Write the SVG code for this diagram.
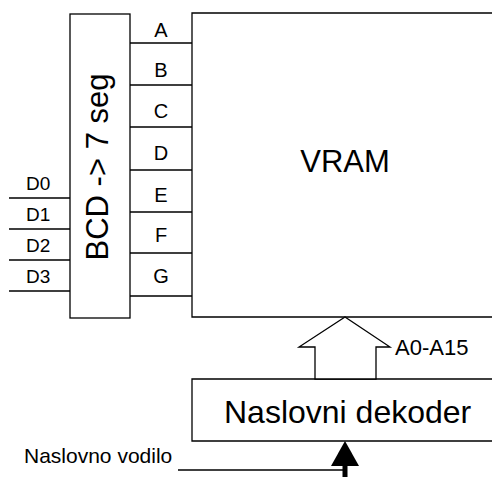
<svg xmlns="http://www.w3.org/2000/svg" width="492" height="477" viewBox="0 0 492 477">
<style>
.ln{fill:none;stroke:#000;stroke-width:1.3}
.box{fill:#fff;stroke:#000;stroke-width:1.3}
text{font-family:"Liberation Sans",Arial,sans-serif;fill:#000}
.seg{font-size:20px;text-anchor:middle}
.din{font-size:19px}
</style>
<rect width="492" height="477" fill="#fff"/>
<g id="bcd">
<rect class="box" x="70" y="14" width="60" height="304"/>
<text transform="translate(108,167) rotate(-90)" font-size="31" text-anchor="middle">BCD -&gt; 7 seg</text>
</g>
<g id="vram">
<path class="ln" d="M500 13 H192 V317 H500"/>
<text x="345" y="172" font-size="31" text-anchor="middle">VRAM</text>
</g>
<g id="decoder">
<path class="box" d="M500 379 H192 V441 H500"/>
<text x="224" y="423" font-size="32">Naslovni dekoder</text>
</g>
<g id="connectors">
<path class="ln" d="M130 43 H192 M130 85 H192 M130 127 H192 M130 170 H192 M130 212 H192 M130 253 H192 M130 296 H192"/>
<path class="ln" d="M9 198 H70 M9 229 H70 M9 260 H70 M9 291 H70"/>
<polygon class="box" points="315,379 315,347 299,347 345,317 390,347 376,347 376,379"/>
<path class="ln" d="M178 470 H343"/>
<polygon points="345,441 359,466 331,466" fill="#000"/>
<rect x="342.5" y="465" width="5" height="12" fill="#000"/>
</g>
<g id="labels">
<text class="seg" x="161" y="37">A</text>
<text class="seg" x="161" y="77">B</text>
<text class="seg" x="161" y="118">C</text>
<text class="seg" x="161" y="160">D</text>
<text class="seg" x="161" y="202">E</text>
<text class="seg" x="161" y="242">F</text>
<text class="seg" x="161" y="283">G</text>
<text class="din" x="26" y="190">D0</text>
<text class="din" x="26" y="221">D1</text>
<text class="din" x="26" y="252">D2</text>
<text class="din" x="26" y="283">D3</text>
<text x="395" y="355" font-size="22">A0-A15</text>
<text x="24" y="463" font-size="21">Naslovno vodilo</text>
</g>
</svg>
